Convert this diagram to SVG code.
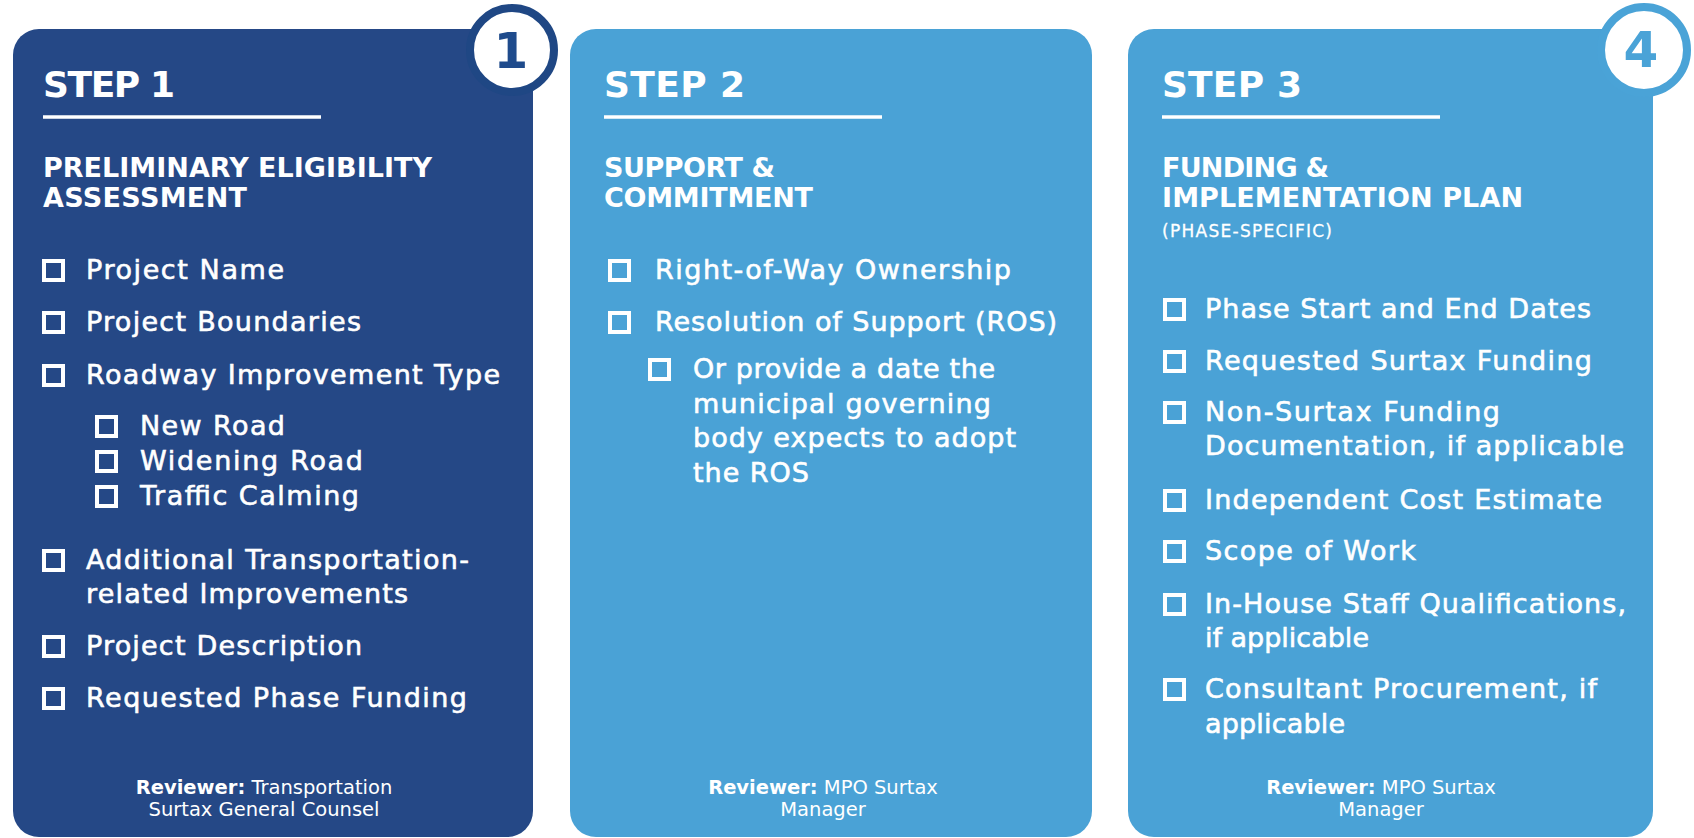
<svg xmlns="http://www.w3.org/2000/svg" width="1694" height="838" viewBox="0 0 1694 838">
<style>
.dark{fill:#254886}
.light{fill:#4aa2d6}
text{font-family:"DejaVu Sans",sans-serif;fill:#ffffff}
.step{font-size:36px;font-weight:bold}
.head{font-size:27px;font-weight:bold}
.sub{font-size:17px;stroke:#ffffff;stroke-width:0.3}
.item{font-size:27px;stroke:#ffffff;stroke-width:0.6}
.rev{font-size:19.5px;text-anchor:middle}
.rev tspan.b{font-weight:bold}
.rule{stroke:#ffffff;stroke-width:3.5}
.box{fill:none;stroke:#ffffff;stroke-width:4}
.num{font-size:50px;font-weight:bold;text-anchor:middle}
</style>
<rect width="1694" height="838" fill="#ffffff"/>
<g id="connectors"/>
<g id="step1">
<rect class="dark" x="13" y="29" width="520" height="808" rx="26"/>
<text class="step" x="43" y="97" textLength="132">STEP 1</text>
<line class="rule" x1="43" y1="117" x2="321" y2="117"/>
<text class="head" x="43" y="177" textLength="389">PRELIMINARY ELIGIBILITY</text>
<text class="head" x="43" y="207" textLength="204">ASSESSMENT</text>
<rect class="box" x="44" y="261" width="19" height="19"/>
<text class="item" x="86" y="279" textLength="198">Project Name</text>
<rect class="box" x="44" y="313" width="19" height="19"/>
<text class="item" x="86" y="331" textLength="275">Project Boundaries</text>
<rect class="box" x="44" y="366" width="19" height="19"/>
<text class="item" x="86" y="384" textLength="414">Roadway Improvement Type</text>
<rect class="box" x="97" y="417" width="19" height="19"/>
<text class="item" x="140" y="435" textLength="145">New Road</text>
<rect class="box" x="97" y="452" width="19" height="19"/>
<text class="item" x="140" y="470" textLength="223">Widening Road</text>
<rect class="box" x="97" y="487" width="19" height="19"/>
<text class="item" x="140" y="505" textLength="219">Traffic Calming</text>
<rect class="box" x="44" y="551" width="19" height="19"/>
<text class="item" x="86" y="569" textLength="383">Additional Transportation-</text>
<text class="item" x="86" y="603" textLength="322">related Improvements</text>
<rect class="box" x="44" y="637" width="19" height="19"/>
<text class="item" x="86" y="655" textLength="276">Project Description</text>
<rect class="box" x="44" y="689" width="19" height="19"/>
<text class="item" x="86" y="707" textLength="381">Requested Phase Funding</text>
<text class="rev" x="264" y="794"><tspan class="b">Reviewer:</tspan> Transportation<tspan x="264" dy="22">Surtax General Counsel</tspan></text>
</g>
<g id="step2">
<rect class="light" x="570" y="29" width="522" height="808" rx="26"/>
<text class="step" x="604" y="97" textLength="141">STEP 2</text>
<line class="rule" x1="604" y1="117" x2="882" y2="117"/>
<text class="head" x="604" y="177" textLength="171">SUPPORT &amp;</text>
<text class="head" x="604" y="207" textLength="209">COMMITMENT</text>
<rect class="box" x="610" y="261" width="19" height="19"/>
<text class="item" x="655" y="279" textLength="356">Right-of-Way Ownership</text>
<rect class="box" x="610" y="313" width="19" height="19"/>
<text class="item" x="655" y="331" textLength="402">Resolution of Support (ROS)</text>
<rect class="box" x="650" y="360" width="19" height="19"/>
<text class="item" x="693" y="378" textLength="302">Or provide a date the</text>
<text class="item" x="693" y="413" textLength="298">municipal governing</text>
<text class="item" x="693" y="447" textLength="323">body expects to adopt</text>
<text class="item" x="693" y="482" textLength="116">the ROS</text>
<text class="rev" x="823" y="794"><tspan class="b">Reviewer:</tspan> MPO Surtax<tspan x="823" dy="22">Manager</tspan></text>
</g>
<g id="step3">
<rect class="light" x="1128" y="29" width="525" height="808" rx="26"/>
<text class="step" x="1162" y="97" textLength="140">STEP 3</text>
<line class="rule" x1="1162" y1="117" x2="1440" y2="117"/>
<text class="head" x="1162" y="177" textLength="167">FUNDING &amp;</text>
<text class="head" x="1162" y="207" textLength="361">IMPLEMENTATION PLAN</text>
<text class="sub" x="1162" y="237" textLength="170">(PHASE-SPECIFIC)</text>
<rect class="box" x="1165" y="300" width="19" height="19"/>
<text class="item" x="1205" y="318" textLength="386">Phase Start and End Dates</text>
<rect class="box" x="1165" y="352" width="19" height="19"/>
<text class="item" x="1205" y="370" textLength="387">Requested Surtax Funding</text>
<rect class="box" x="1165" y="403" width="19" height="19"/>
<text class="item" x="1205" y="421" textLength="295">Non-Surtax Funding</text>
<text class="item" x="1205" y="455" textLength="419">Documentation, if applicable</text>
<rect class="box" x="1165" y="491" width="19" height="19"/>
<text class="item" x="1205" y="509" textLength="397">Independent Cost Estimate</text>
<rect class="box" x="1165" y="542" width="19" height="19"/>
<text class="item" x="1205" y="560" textLength="211">Scope of Work</text>
<rect class="box" x="1165" y="595" width="19" height="19"/>
<text class="item" x="1205" y="613" textLength="421">In-House Staff Qualifications,</text>
<text class="item" x="1205" y="647" textLength="164">if applicable</text>
<rect class="box" x="1165" y="680" width="19" height="19"/>
<text class="item" x="1205" y="698" textLength="392">Consultant Procurement, if</text>
<text class="item" x="1205" y="733" textLength="140">applicable</text>
<text class="rev" x="1381" y="794"><tspan class="b">Reviewer:</tspan> MPO Surtax<tspan x="1381" dy="22">Manager</tspan></text>
</g>
<g id="badge1">
<circle cx="512" cy="50" r="42" fill="#ffffff" stroke="#1f4784" stroke-width="8"/>
<text class="num" x="511" y="68" style="fill:#1f4b8c">1</text>
</g>
<g id="badge4">
<circle cx="1644" cy="50" r="43" fill="#ffffff" stroke="#4aa3d7" stroke-width="8"/>
<text class="num" x="1641" y="67" style="fill:#4aa3d7">4</text>
</g>
</svg>
